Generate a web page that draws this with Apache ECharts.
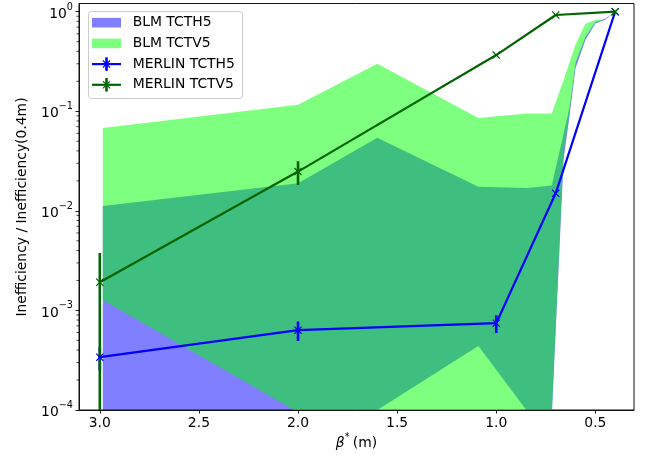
<!DOCTYPE html>
<html><head><meta charset="utf-8">
<script src="https://cdn.jsdelivr.net/npm/echarts@6/dist/echarts.min.js"></script>
<style>html,body{margin:0;padding:0;background:#fff}#c{width:648px;height:459px}</style>
</head><body><div id="c"></div>
<script>
// MERLIN simulation points (beta* in m)
const merlinBeta = [3.0, 2.0, 1.0, 0.7, 0.4];
const merlinTCTH5 = [3.39e-4, 6.33e-4, 7.44e-4, 0.0150, 1.0];
const merlinTCTH5Err = [0.9e-4, 1.4e-4, 1.5e-4, 0.0004, 0];
const merlinTCTV5 = [1.92e-3, 0.0248, 0.367, 0.927, 1.0];
const merlinTCTV5Err = [1.86e-3, 0.0066, 0.008, 0.01, 0];

// BLM measured bands: beta*, lower edge, upper edge
const blmBeta = [2.985, 2.0, 1.6, 1.09, 0.845, 0.72, 0.66, 0.63, 0.6, 0.55, 0.5, 0.45, 0.4];
const blmTCTH5Low  = [2e-5, 2e-5, 1.0e-4, 4.4e-4, 9.8e-5, 8.5e-5, 0.033, 0.09, 0.27, 0.52, 0.76, 0.83, 1.0];
const blmTCTH5High = [0.0112, 0.0189, 0.0543, 0.0175, 0.0170, 0.0180, 0.06, 0.11, 0.31, 0.56, 0.79, 0.85, 1.0];
const blmTCTV5Low  = [1.27e-3, 9.5e-5, 3e-5, 2e-5, 2e-5, 9.0e-5, 0.04, 0.10, 0.30, 0.55, 0.78, 0.84, 1.0];
const blmTCTV5High = [0.068, 0.116, 0.30, 0.0855, 0.095, 0.095, 0.206, 0.31, 0.468, 0.755, 0.825, 0.84, 1.0];

// y-axis decades and x-axis ticks
const yTicks = [1e-4, 1e-3, 1e-2, 1e-1, 1];
const xTicks = [0.5, 1.0, 1.5, 2.0, 2.5, 3.0];
const yMinor = [];
for (let d = -4; d < 1; d++) for (let m = 2; m <= 9; m++) yMinor.push(m * Math.pow(10, d));

const FONT = 'DejaVu Sans';
const FS = 13.9;

function bandSeries(name, lo, hi, color) {
  return {
    name, type: 'custom', clip: true, z: 1,
    data: blmBeta.map((b, i) => [b, hi[i], lo[i]]),
    encode: { x: 0, y: 1 },
    renderItem(params, api) {
      if (params.dataIndex !== 0) return;
      const pts = [];
      for (let i = 0; i < blmBeta.length; i++) pts.push(api.coord([blmBeta[i], hi[i]]));
      for (let i = blmBeta.length - 1; i >= 0; i--) pts.push(api.coord([blmBeta[i], lo[i]]));
      return { type: 'polygon', shape: { points: pts }, style: { fill: color }, silent: true };
    }
  };
}

function errSeries(vals, errs, color) {
  return {
    type: 'custom', clip: true, z: 3,
    data: merlinBeta.map((b, i) => [b, vals[i], errs[i]]),
    encode: { x: 0, y: 1 },
    renderItem(params, api) {
      const b = api.value(0), v = api.value(1), e = api.value(2);
      if (!e) return;
      const p1 = api.coord([b, Math.max(v - e, 1e-9)]);
      const p2 = api.coord([b, v + e]);
      return { type: 'line', shape: { x1: p1[0], y1: p1[1], x2: p2[0], y2: p2[1] },
        style: { stroke: color, lineWidth: 2.6 }, silent: true };
    }
  };
}

function lineSeries(name, vals, color, z) {
  return {
    name, type: 'line', z, data: merlinBeta.map((b, i) => [b, vals[i]]),
    symbol: 'none', lineStyle: { color, width: 2.2 }, clip: true, silent: true
  };
}

function markerSeries(vals, color, z) {
  return {
    type: 'custom', clip: false, z,
    data: merlinBeta.map((b, i) => [b, vals[i]]),
    encode: { x: 0, y: 1 },
    renderItem(params, api) {
      const p = api.coord([api.value(0), api.value(1)]);
      const s = 3.6;
      return { type: 'group', children: [
        { type: 'line', shape: { x1: p[0] - s, y1: p[1] - s, x2: p[0] + s, y2: p[1] + s }, style: { stroke: color, lineWidth: 1.2 } },
        { type: 'line', shape: { x1: p[0] - s, y1: p[1] + s, x2: p[0] + s, y2: p[1] - s }, style: { stroke: color, lineWidth: 1.2 } }
      ] };
    }
  };
}

const minorTickSeries = {
  type: 'custom', clip: false, z: 5,
  data: yMinor.map(v => [3.105, v]),
  encode: { x: 0, y: 1 },
  renderItem(params, api) {
    const p = api.coord([3.105, api.value(1)]);
    return { type: 'line', shape: { x1: p[0] - 2.6, y1: p[1], x2: p[0], y2: p[1] },
      style: { stroke: '#000', lineWidth: 0.7 }, silent: true };
  }
};

const chart = echarts.init(document.getElementById('c'), null, { renderer: 'canvas' });

const legendRows = [
  { label: 'BLM TCTH5', kind: 'patch', color: 'rgba(0,0,255,0.5)' },
  { label: 'BLM TCTV5', kind: 'patch', color: 'rgba(0,255,0,0.5)' },
  { label: 'MERLIN TCTH5', kind: 'line', color: '#0000ff' },
  { label: 'MERLIN TCTV5', kind: 'line', color: '#006400' }
];
const legendEls = [{
  type: 'rect', shape: { x: 88.5, y: 11.5, width: 154, height: 87, r: 3 },
  style: { fill: 'rgba(255,255,255,0.8)', stroke: '#cccccc', lineWidth: 1 }, z: 100
}];
legendRows.forEach((r, i) => {
  const cy = 22.7 + i * 20.7;
  if (r.kind === 'patch') {
    legendEls.push({ type: 'rect', shape: { x: 92, y: cy - 4.8, width: 29, height: 9.6 }, style: { fill: r.color }, z: 101 });
  } else {
    const cx = 106.5, s = 3.6;
    legendEls.push({ type: 'line', shape: { x1: 92, y1: cy, x2: 121, y2: cy }, style: { stroke: r.color, lineWidth: 2.2 }, z: 101 });
    legendEls.push({ type: 'line', shape: { x1: cx, y1: cy - 6.8, x2: cx, y2: cy + 6.8 }, style: { stroke: r.color, lineWidth: 2.6 }, z: 101 });
    legendEls.push({ type: 'line', shape: { x1: cx - s, y1: cy - s, x2: cx + s, y2: cy + s }, style: { stroke: r.color, lineWidth: 1.2 }, z: 101 });
    legendEls.push({ type: 'line', shape: { x1: cx - s, y1: cy + s, x2: cx + s, y2: cy - s }, style: { stroke: r.color, lineWidth: 1.2 }, z: 101 });
  }
  legendEls.push({ type: 'text', x: 132.7, y: cy, style: { text: r.label, fontFamily: FONT, fontSize: FS, fill: '#000', verticalAlign: 'middle', align: 'left' }, z: 101 });
});

chart.setOption({
  animation: false,
  backgroundColor: '#fff',
  grid: { left: 79, right: 14, top: 3.5, bottom: 49, show: true, borderColor: '#111', borderWidth: 1, backgroundColor: 'transparent' },
  xAxis: {
    type: 'value', inverse: true, min: 0.305, max: 3.105,
    axisLine: { show: true, lineStyle: { color: '#111', width: 1 } },
    axisTick: { show: true, length: 3.5, inside: false, lineStyle: { color: '#000', width: 0.9 }, customValues: xTicks },
    axisLabel: { customValues: xTicks, margin: 6, fontFamily: FONT, fontSize: FS, color: '#000', formatter: v => v.toFixed(1) },
    splitLine: { show: false }
  },
  yAxis: {
    type: 'log', logBase: 10, min: 1e-4, max: 1.209,
    axisLine: { show: true, lineStyle: { color: '#111', width: 1 } },
    axisTick: { show: true, length: 3.5, lineStyle: { color: '#000', width: 0.9 }, customValues: yTicks },
    axisLabel: {
      customValues: yTicks, margin: 6, color: '#000',
      formatter: v => { const e = Math.round(Math.log10(v)); return '{n|10}{s|' + (e < 0 ? '\u2212' + (-e) : e) + '}'; },
      rich: {
        n: { fontFamily: FONT, fontSize: FS, lineHeight: 19, verticalAlign: 'bottom', color: '#000' },
        s: { fontFamily: FONT, fontSize: 9.7, lineHeight: 19, verticalAlign: 'top', color: '#000' }
      }
    },
    splitLine: { show: false }, minorTick: { show: false }
  },
  graphic: [
    { type: 'text', x: 22, y: 207, rotation: Math.PI / 2, style: { text: 'Inefficiency / Inefficiency(0.4m)', fontFamily: FONT, fontSize: FS, fill: '#000', align: 'center', verticalAlign: 'middle' } },
    { type: 'text', x: 356.5, y: 441, style: {
        text: '{b|\u03b2}{s|*} {n|(m)}', align: 'center', verticalAlign: 'middle',
        rich: {
          b: { fontFamily: FONT, fontSize: FS, fontStyle: 'italic', fill: '#000', lineHeight: 18, verticalAlign: 'bottom' },
          s: { fontFamily: FONT, fontSize: 9.7, fill: '#000', lineHeight: 18, verticalAlign: 'top' },
          n: { fontFamily: FONT, fontSize: FS, fill: '#000', lineHeight: 18, verticalAlign: 'bottom' }
        } } },
    ...legendEls
  ],
  series: [
    bandSeries('BLM TCTH5', blmTCTH5Low, blmTCTH5High, 'rgba(0,0,255,0.5)'),
    bandSeries('BLM TCTV5', blmTCTV5Low, blmTCTV5High, 'rgba(0,255,0,0.5)'),
    errSeries(merlinTCTH5, merlinTCTH5Err, '#0000ff'),
    errSeries(merlinTCTV5, merlinTCTV5Err, '#006400'),
    lineSeries('MERLIN TCTH5', merlinTCTH5, '#0000ff', 4),
    markerSeries(merlinTCTH5, '#0000ff', 4),
    lineSeries('MERLIN TCTV5', merlinTCTV5, '#006400', 6),
    markerSeries(merlinTCTV5, '#006400', 6),
    minorTickSeries
  ]
});
</script>
</body></html>
